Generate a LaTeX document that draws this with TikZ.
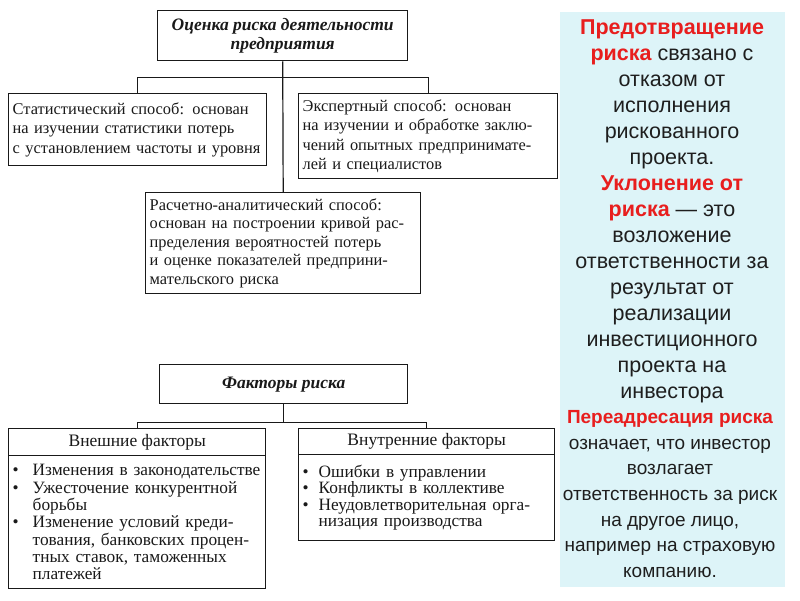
\documentclass[tikz,border=0pt]{standalone}
\usepackage{fontspec}
\setmainfont{Liberation Serif}
\newfontfamily\panelfont{Liberation Sans}
\definecolor{panelbg}{RGB}{221,244,248}
\definecolor{redtxt}{RGB}{232,30,30}
\definecolor{ink}{RGB}{25,25,25}
\definecolor{ptext}{RGB}{30,30,30}
\begin{document}
\begin{tikzpicture}[x=1pt,y=-1pt,
  box/.style={draw=ink, line width=1.4pt, inner xsep=4pt, inner ysep=0pt, anchor=north west, align=left, text=ink,
    font=\fontsize{16.4}{19.6}\selectfont},
  titlebox/.style={draw=ink, line width=1.4pt, inner sep=0pt, anchor=north west, align=center, text=ink,
    font=\fontsize{17.5}{19}\selectfont\bfseries\itshape},
  headbox/.style={draw=ink, line width=1.4pt, inner sep=0pt, anchor=north west, align=center, text=ink,
    font=\fontsize{17.5}{19}\selectfont},
  conn/.style={draw=ink, line width=1.2pt},
  ptxt/.style={align=center, text=ptext, font=\panelfont},
  hl/.style={text=redtxt}]
\useasboundingbox (0,0) rectangle (800,600);
\fill[white] (0,0) rectangle (800,600);

% ---- right panel
\fill[panelbg] (560,12) rectangle (785,587);

% ---- upper tree
\node[titlebox, minimum width=250pt, minimum height=50pt] (top) at (157,10)
  {Оценка риска деятельности\\предприятия};
\node[box, minimum width=258pt, minimum height=72pt, text width=250pt] (stat) at (8,93)
  {Статистический способ: основан\\на изучении статистики потерь\\с установлением частоты и уровня};
\node[box, minimum width=259pt, minimum height=85pt, text width=251pt] (expert) at (298,93)
  {Экспертный способ: основан\\на изучении и обработке заклю-\\чений опытных предпринимате-\\лей и специалистов};
\node[box, minimum width=275pt, minimum height=101pt, text width=267pt,
      font=\fontsize{16.4}{18.6}\selectfont] (calc) at (145,192)
  {Расчетно-аналитический способ:\\основан на построении кривой рас-\\пределения вероятностей потерь\\и оценке показателей предприни-\\мательского риска};

\path (top.south) ++(0,16) coordinate (j1);
\draw[conn] (top.south) -- (calc.north);
\draw[conn] (stat.north) |- (j1) -| (expert.north);

% ---- lower tree
\node[titlebox, minimum width=248pt, minimum height=39pt] (fac) at (159,364)
  {Факторы риска};
\node[headbox, minimum width=257pt, minimum height=27pt] (extH) at (8,428)
  {Внешние факторы};
\node[box, minimum width=257pt, minimum height=133pt, text width=249pt,
      font=\fontsize{17.3}{17.3}\selectfont] (extB) at (8,455)
  {\makebox[20pt][l]{\textbullet}Изменения в законодательстве\\
   \makebox[20pt][l]{\textbullet}Ужесточение конкурентной\\
   \hspace*{20pt}борьбы\\
   \makebox[20pt][l]{\textbullet}Изменение условий креди-\\
   \hspace*{20pt}тования, банковских процен-\\
   \hspace*{20pt}тных ставок, таможенных\\
   \hspace*{20pt}платежей};
\node[headbox, minimum width=256pt, minimum height=26pt] (intH) at (298,428)
  {Внутренние факторы};
\node[box, minimum width=256pt, minimum height=86pt, text width=248pt,
      font=\fontsize{17.3}{16.6}\selectfont] (intB) at (298,454)
  {\makebox[16pt][l]{\textbullet}Ошибки в управлении\\
   \makebox[16pt][l]{\textbullet}Конфликты в коллективе\\
   \makebox[16pt][l]{\textbullet}Неудовлетворительная орга-\\
   \hspace*{16pt}низация производства};

\path (fac.south) ++(0,18) coordinate (j2);
\draw[conn] (fac.south) -- (j2);
\draw[conn] (extH.north) |- (j2) -| (intH.north);

% ---- panel text
\node[ptxt, font=\panelfont\fontsize{21.5}{26}\selectfont] (pA) at (672,211)
  {{\color{redtxt}\bfseries Предотвращение}\\
   {\color{redtxt}\bfseries риска} связано с\\
   отказом от\\
   исполнения\\
   рискованного\\
   проекта.\\
   {\color{redtxt}\bfseries Уклонение от}\\
   {\color{redtxt}\bfseries риска} — это\\
   возложение\\
   ответственности за\\
   результат от\\
   реализации\\
   инвестиционного\\
   проекта на\\
   инвестора};
\node[ptxt, font=\panelfont\fontsize{19}{25.7}\selectfont] (pB) at (670,494)
  {{\color{redtxt}\bfseries Переадресация риска}\\
   означает, что инвестор\\
   возлагает\\
   ответственность за риск\\
   на другое лицо,\\
   например на страховую\\
   компанию.};
\end{tikzpicture}
\end{document}
